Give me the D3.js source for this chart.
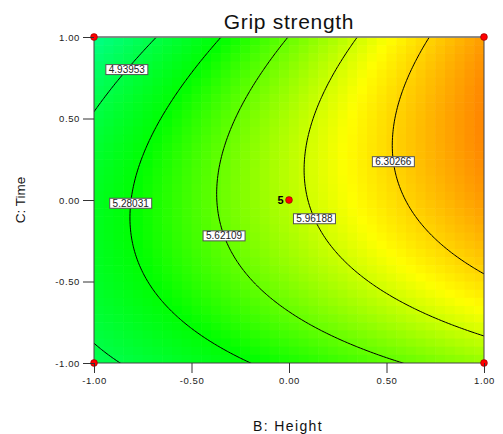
<!DOCTYPE html>
<html>
<head>
<meta charset="utf-8">
<script src="https://cdn.jsdelivr.net/npm/d3@7"></script>
<style>
  html, body { margin: 0; padding: 0; background: #fff; }
  svg { display: block; font-family: Arial, "Liberation Sans", sans-serif; }
</style>
</head>
<body>
<svg id="chart" width="503" height="434"></svg>
<script>
// ---- data ----
const title = "Grip strength";
const xTitle = "B: Height";
const yTitle = "C: Time";
const tickValues = [-1, -0.5, 0, 0.5, 1];
const tickLabels = ["-1.00", "-0.50", "0.00", "0.50", "1.00"];
// contour levels shown on the plot
const levels = [4.93953, 5.28031, 5.62109, 5.96188, 6.30266];
const levelLabels = ["4.93953", "5.28031", "5.62109", "5.96188", "6.30266"];
// C (Time) value where each contour label sits
const labelC = [0.80, -0.02, -0.22, -0.115, 0.235];
// fitted quadratic response: b0, B, C, BC, B^2, C^2 (estimated from the contours)
const coefNames = ["b0", "B", "C", "BC", "B2", "C2"];
const coefValues = [5.893, 0.716, 0.127, 0.26, -0.05, -0.394];
// design points and replicate counts
const designB = [-1, 1, -1, 1, 0];
const designC = [1, 1, -1, -1, 0];
const designN = [1, 1, 1, 1, 5];
// colour ramp stops (response value -> colour)
const rampValues = [4.6, 5.3, 6.12, 6.64, 7.1];
const rampColors = ["#00FF88", "#00FF00", "#FFFF00", "#FF8800", "#FF2000"];

// ---- chart ----
const svg = d3.select("#chart");
const x = d3.scaleLinear().domain([-1, 1]).range([94, 484]);
const y = d3.scaleLinear().domain([-1, 1]).range([363, 37]);
const color = d3.scaleLinear().domain(rampValues).range(rampColors).clamp(true);

const [b0, bB, bC, bBC, bBB, bCC] = coefValues;
const f = (B, C) => b0 + bB * B + bC * C + bBC * B * C + bBB * B * B + bCC * C * C;

svg.append("defs").append("clipPath").attr("id", "plotClip")
  .append("rect").attr("x", x(-1)).attr("y", y(1))
  .attr("width", x(1) - x(-1)).attr("height", y(-1) - y(1));

const plot = svg.append("g").attr("clip-path", "url(#plotClip)");

// colour cells
const cols = 40, rows = 40;
const cells = [];
for (let j = 0; j < rows; j++) {
  for (let i = 0; i < cols; i++) {
    const B0 = -1 + 2 * i / cols, B1 = -1 + 2 * (i + 1) / cols;
    const C1 = 1 - 2 * j / rows, C0 = 1 - 2 * (j + 1) / rows;
    cells.push({B0, B1, C0, C1, v: f((B0 + B1) / 2, (C0 + C1) / 2)});
  }
}
plot.selectAll("rect.cell").data(cells).join("rect").attr("class", "cell")
  .attr("x", d => x(d.B0)).attr("y", d => y(d.C1))
  .attr("width", d => x(d.B1) - x(d.B0) + 0.6)
  .attr("height", d => y(d.C0) - y(d.C1) + 0.6)
  .attr("fill", d => color(d.v));

// contour lines
const N = 121;
const grid = new Array(N * N);
for (let j = 0; j < N; j++) {
  for (let i = 0; i < N; i++) {
    grid[j * N + i] = f(-1 + 2 * i / (N - 1), 1 - 2 * j / (N - 1));
  }
}
const contours = d3.contours().size([N, N]).thresholds(levels)(grid);
const gx = px => x(-1 + 2 * (px - 0.5) / (N - 1));
const gy = py => y(1 - 2 * (py - 0.5) / (N - 1));
const toPath = geo => geo.coordinates.map(poly => poly.map(ring =>
  "M" + ring.map(p => gx(p[0]).toFixed(2) + "," + gy(p[1]).toFixed(2)).join("L") + "Z").join("")).join("");
plot.selectAll("path.contour").data(contours).join("path").attr("class", "contour")
  .attr("d", toPath).attr("fill", "none").attr("stroke", "#000").attr("stroke-width", 1);

// frame
svg.append("rect").attr("x", x(-1)).attr("y", y(1))
  .attr("width", x(1) - x(-1)).attr("height", y(-1) - y(1))
  .attr("fill", "none").attr("stroke", "#444").attr("stroke-width", 1);
svg.append("line").attr("x1", x(-1)).attr("x2", x(1)).attr("y1", y(1)).attr("y2", y(1))
  .attr("stroke", "#888").attr("stroke-width", 1.5);

// contour labels
function solveB(L, C) {
  let lo = -1, hi = 1;
  for (let k = 0; k < 60; k++) {
    const mid = (lo + hi) / 2;
    if (f(mid, C) < L) lo = mid; else hi = mid;
  }
  return (lo + hi) / 2;
}
const labG = svg.append("g");
levels.forEach((L, k) => {
  const cx = x(solveB(L, labelC[k])), cy = y(labelC[k]);
  const g = labG.append("g").attr("transform", `translate(${cx},${cy})`);
  g.append("rect").attr("x", -21).attr("y", -5).attr("width", 42).attr("height", 10)
    .attr("fill", "#fff").attr("stroke", "#555").attr("stroke-width", 1);
  g.append("text").attr("text-anchor", "middle").attr("y", 3.6)
    .attr("font-size", 10).attr("fill", "#222").text(levelLabels[k]);
});

// design points
const pts = designB.map((b, i) => ({b, c: designC[i], n: designN[i]}));
svg.selectAll("circle.pt").data(pts).join("circle").attr("class", "pt")
  .attr("cx", d => x(d.b)).attr("cy", d => y(d.c)).attr("r", 3.4)
  .attr("fill", "#ff0000").attr("stroke", "#800").attr("stroke-width", 0.6);
svg.selectAll("text.cnt").data(pts.filter(d => d.n > 1)).join("text").attr("class", "cnt")
  .attr("x", d => x(d.b) - 5.5).attr("y", d => y(d.c) + 4)
  .attr("text-anchor", "end").attr("font-size", 11).attr("font-weight", "bold")
  .attr("fill", "#000").text(d => d.n);

// axes
const fmt = v => tickLabels[tickValues.indexOf(v)];
const yAxis = svg.append("g").attr("transform", `translate(${x(-1)},0)`)
  .call(d3.axisLeft(y).tickValues(tickValues).tickFormat(fmt).tickSize(11).tickPadding(3));
const xAxis = svg.append("g").attr("transform", `translate(0,${y(-1)})`)
  .call(d3.axisBottom(x).tickValues(tickValues).tickFormat(fmt).tickSize(10).tickPadding(4));
[yAxis, xAxis].forEach(a => {
  a.select(".domain").remove();
  a.selectAll(".tick line").attr("stroke", "#333");
  a.selectAll(".tick text").attr("font-family", "Arial, 'Liberation Sans', sans-serif")
    .attr("font-size", 9.5).attr("letter-spacing", 0.6).attr("fill", "#222");
});

// titles
svg.append("text").attr("x", 289).attr("y", 29).attr("text-anchor", "middle")
  .attr("font-size", 21).attr("letter-spacing", 0.7).attr("fill", "#111").text(title);
svg.append("text").attr("x", 288).attr("y", 431).attr("text-anchor", "middle")
  .attr("font-size", 14).attr("letter-spacing", 1.4).attr("fill", "#111").text(xTitle);
svg.append("text").attr("transform", "translate(25,200) rotate(-90)").attr("text-anchor", "middle")
  .attr("font-size", 13.5).attr("fill", "#111").text(yTitle);
</script>
</body>
</html>
